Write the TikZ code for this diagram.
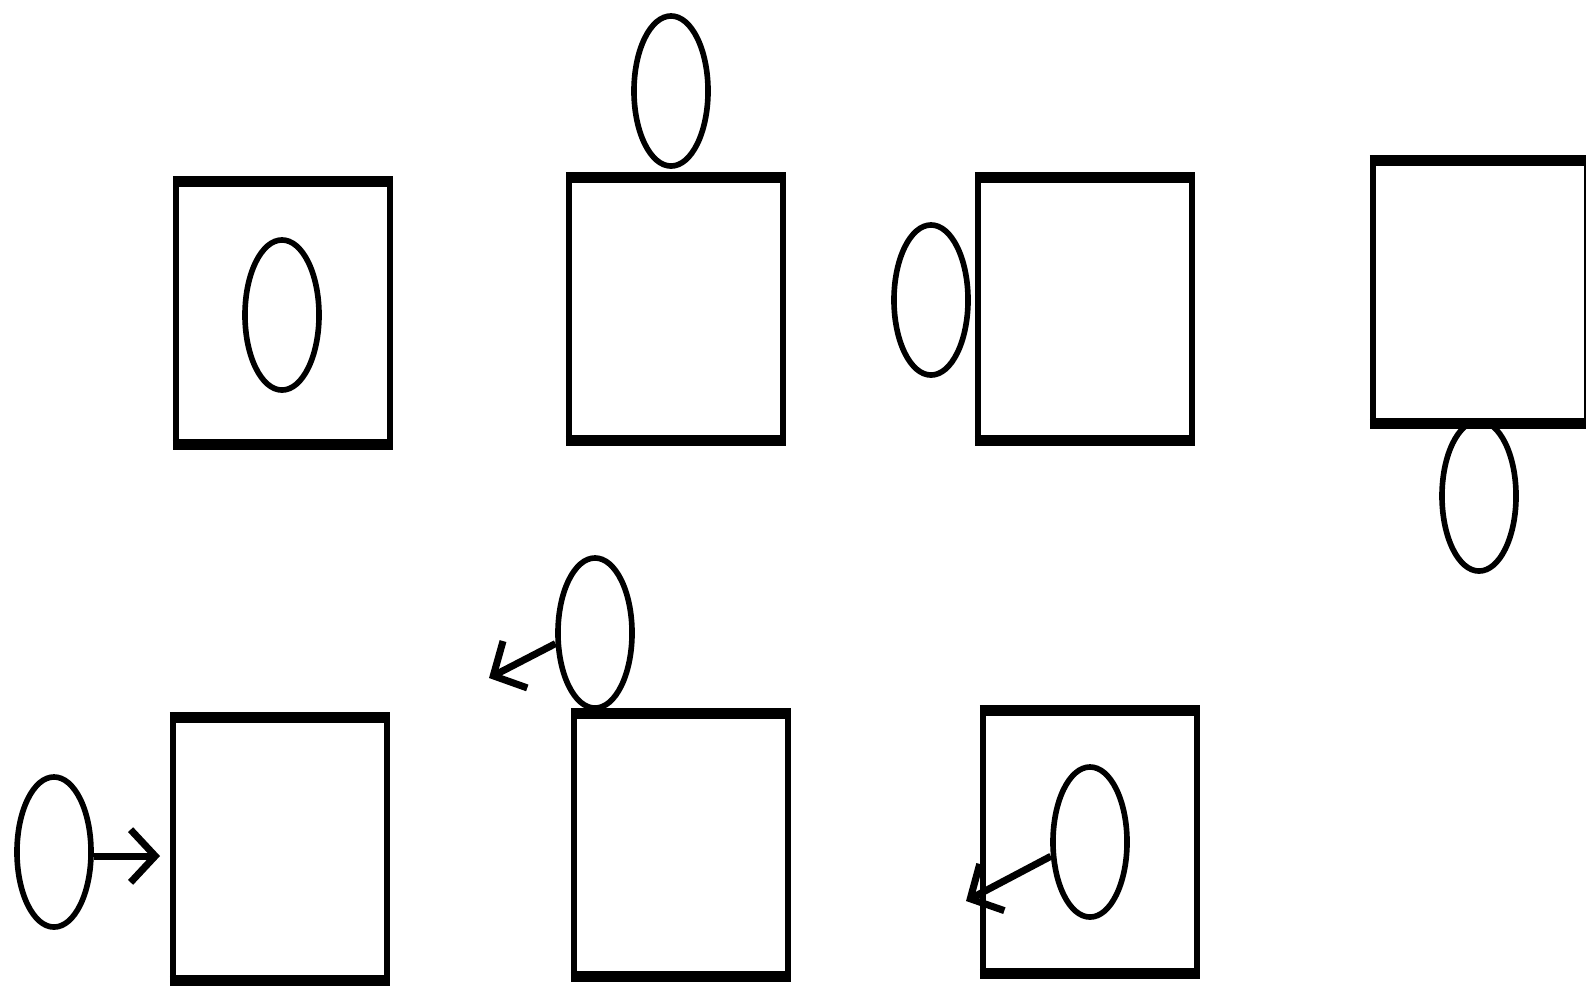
\documentclass[tikz,border=0pt]{standalone}
\usetikzlibrary{shapes.geometric,arrows.meta}
\begin{document}
\begin{tikzpicture}[x=0.01cm,y=-0.01cm,>={Straight Barb[length=7pt,width=15pt]},
	hop/.style={draw,line width=1.7pt,minimum width=2.14cm,minimum height=2.58cm,inner sep=0pt},
	qua/.style={draw,ellipse,line width=1.6pt,minimum width=0.74cm,minimum height=1.5cm,inner sep=0pt},
	vien/.style={line width=2.8pt},
	muiten/.style={->,line width=2pt}]
	\useasboundingbox (0,0) rectangle (1586,987);
	%Hàng trên
	\node[hop] (h1) at (283,313) {};
	\node[hop] (h2) at (676,309) {};
	\node[hop] (h3) at (1085,309) {};
	\node[hop] (h4) at (1480,292) {};
	\node[qua] (q1) at (282,315) {};
	\node[qua] (q2) at (671,91) {};
	\node[qua] (q3) at (931,300) {};
	\node[qua] (q4) at (1479,496) {};
	%Hàng dưới
	\node[hop] (h5) at (280,849) {};
	\node[hop] (h6) at (681,845) {};
	\node[hop] (h7) at (1090,842) {};
	\node[qua] (q5) at (54,852) {};
	\node[qua] (q6) at (595,633) {};
	\node[qua] (q7) at (1090,842) {};
	%Cạnh trên, cạnh dưới đậm hơn
	\foreach \h in {h1,h2,h3,h4,h5,h6,h7}
	\draw[vien] (\h.north west) -- (\h.north east) (\h.south west) -- (\h.south east);
	%Các mũi tên
	\coordinate (m5) at (160,856);
	\coordinate (m6) at (489,678);
	\coordinate (m7) at (966,901);
	\draw[muiten] (q5.east |- m5) -- (m5);
	\draw[muiten] (q6.195) -- (m6);
	\draw[muiten] (q7.200) -- (m7);
\end{tikzpicture}
\end{document}
